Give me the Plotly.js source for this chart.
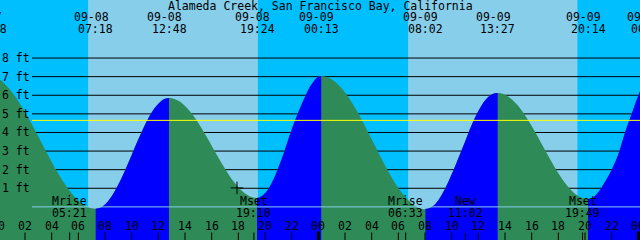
<!DOCTYPE html>
<html><head><meta charset="utf-8">
<script src="https://cdn.plot.ly/plotly-3.0.1.min.js"></script>
<style>html,body{margin:0;padding:0;background:#00BFFF;overflow:hidden}</style>
</head><body><div id="chart" style="width:640px;height:240px"></div>
<script>
const titleText = 'Alameda Creek, San Francisco Bay, California';

// tide height readings (hours after 09-08 00:00, feet)
const tideHours = [-0.5,0,0.5,1,1.5,2,2.5,3,3.5,4,4.5,5,5.5,6,6.5,7,7.5,8,8.5,9,9.5,10,10.5,11,11.5,12,12.5,13,13.5,14,14.5,15,15.5,16,16.5,17,17.5,18,18.5,19,19.5,20,20.5,21,21.5,22,22.5,23,23.5,24,24.5,25,25.5,26,26.5,27,27.5,28,28.5,29,29.5,30,30.5,31,31.5,32,32.5,33,33.5,34,34.5,35,35.5,36,36.5,37,37.5,38,38.5,39,39.5,40,40.5,41,41.5,42,42.5,43,43.5,44,44.5,45,45.5,46,46.5,47,47.5,48,48.5];
const tideFeet = [7.06,6.89,6.59,6.19,5.68,5.10,4.45,3.78,3.09,2.41,1.78,1.21,0.72,0.34,0.07,-0.08,-0.08,0.13,0.57,1.20,1.96,2.79,3.63,4.41,5.07,5.54,5.81,5.84,5.70,5.42,5.02,4.51,3.92,3.29,2.66,2.05,1.50,1.05,0.72,0.53,0.49,0.73,1.29,2.11,3.10,4.16,5.10,5.92,6.60,7.00,7.01,6.85,6.57,6.15,5.63,5.02,4.34,3.63,2.92,2.22,1.58,1.01,0.54,0.18,-0.04,-0.12,-0.01,0.36,0.97,1.75,2.62,3.50,4.40,5.15,5.72,6.04,6.12,6.03,5.79,5.42,4.93,4.35,3.72,3.06,2.41,1.81,1.29,0.87,0.58,0.44,0.46,0.80,1.35,2.00,2.83,4.00,5.00,6.00,6.80];

// tide events
const eventDates = ['09-07','09-08','09-08','09-08','09-09','09-09','09-09','09-09','09-10'];
const eventTimes = ['23:18','07:18','12:48','19:24','00:13','08:02','13:27','20:14','00:48'];
const eventKinds = ['high','low','high','low','high','low','high','low','high'];

// sun
const sunDates = ['09-08','09-09'];
const sunriseTimes = ['06:44','06:44'];
const sunsetTimes = ['19:28','19:26'];

// moon
const moonNames = ['Mrise','Mset','Mrise','New','Mset'];
const moonDates = ['09-08','09-08','09-09','09-09','09-09'];
const moonTimes = ['05:21','19:10','06:33','11:02','19:49'];

// axes labels
const hourTicks = [0,2,4,6,8,10,12,14,16,18,20,22,24,26,28,30,32,34,36,38,40,42,44,46,48];
const hourLabels = ['00','02','04','06','08','10','12','14','16','18','20','22','00','02','04','06','08','10','12','14','16','18','20','22','00'];
const feetTicks = [1,2,3,4,5,6,7,8];
const feetLabels = ['1 ft','2 ft','3 ft','4 ft','5 ft','6 ft','7 ft','8 ft'];
const meanLevelFeet = 4.65;
const nowHour = 17.9, nowFeet = 1.02;

function toHours(date, time) {
  const day = parseInt(date.slice(3), 10) - 8;
  const [h, m] = time.split(':').map(Number);
  return day * 24 + h + m / 60;
}
const eventHours = eventDates.map((d, i) => toHours(d, eventTimes[i]));
const moonHours = moonDates.map((d, i) => toHours(d, moonTimes[i]));
const sunrise = sunDates.map((d, i) => toHours(d, sunriseTimes[i]));
const sunset = sunDates.map((d, i) => toHours(d, sunsetTimes[i]));

const X0 = 0.125, X1 = 48.125, Y0 = -1.78, Y1 = 11.12;
const BOTTOM = Y0 - 2;
const EBB = '#2E8B57', FLOOD = '#0000FF';
const FONT = {family: 'DejaVu Sans Mono', size: 11.5, color: '#000000'};
const W = 640, H = 240;

function area(xa, color) {
  return [
    {x: [tideHours[0], tideHours[tideHours.length - 1]], y: [BOTTOM, BOTTOM], xaxis: xa, yaxis: 'y',
     mode: 'lines', line: {width: 0}, hoverinfo: 'skip', showlegend: false},
    {x: tideHours, y: tideFeet, xaxis: xa, yaxis: 'y', mode: 'lines',
     line: {width: 0, shape: 'spline', color: color}, fill: 'tonexty', fillcolor: color,
     hoverinfo: 'skip', showlegend: false}
  ];
}

const layout = {
  width: W, height: H, margin: {l: 0, r: 0, t: 0, b: 0},
  paper_bgcolor: '#00BFFF', plot_bgcolor: 'rgba(0,0,0,0)',
  showlegend: false,
  xaxis: {range: [X0, X1], domain: [0, 1], visible: false, fixedrange: true},
  yaxis: {range: [Y0, Y1], domain: [0, 1], visible: false, fixedrange: true},
  shapes: [], annotations: []
};

let traces = area('x', EBB);
traces.push({x: [nowHour], y: [nowFeet], xaxis: 'x', yaxis: 'y', mode: 'markers',
  marker: {symbol: 'cross-thin', size: 9, line: {color: '#000000', width: 1}},
  hoverinfo: 'skip', showlegend: false});

// rising (flood) segments, clipped into their own sub-axes
let n = 2;
for (let i = 0; i < eventHours.length - 1; i++) {
  if (eventKinds[i] !== 'low') continue;
  const ta = Math.max(eventHours[i], X0), tb = Math.min(eventHours[i + 1], X1);
  const name = 'xaxis' + n;
  layout[name] = {range: [ta, tb], domain: [(ta - X0) / (X1 - X0), (tb - X0) / (X1 - X0)],
    visible: false, anchor: 'y', fixedrange: true};
  traces = traces.concat(area('x' + n, FLOOD));
  n++;
}

// daylight bands
for (let i = 0; i < sunrise.length; i++) {
  layout.shapes.push({type: 'rect', layer: 'below', xref: 'x', yref: 'paper',
    x0: sunrise[i], x1: sunset[i], y0: 0, y1: 1, fillcolor: '#87CEEB', line: {width: 0}});
}
// feet grid
feetTicks.forEach(v => layout.shapes.push({type: 'line', layer: 'below', xref: 'paper', yref: 'y',
  x0: 32 / W, x1: 1, y0: v, y1: v, line: {color: '#000000', width: 1}}));
// mean level and datum lines
layout.shapes.push({type: 'line', layer: 'above', xref: 'paper', yref: 'y', x0: 32 / W, x1: 1,
  y0: meanLevelFeet, y1: meanLevelFeet, line: {color: '#FFFF00', width: 1}});
layout.shapes.push({type: 'line', layer: 'above', xref: 'paper', yref: 'y', x0: 32 / W, x1: 1,
  y0: 0, y1: 0, line: {color: '#87CEEB', width: 1}});
// hour ticks
hourTicks.forEach(t => layout.shapes.push({type: 'line', layer: 'above', xref: 'x', yref: 'paper',
  x0: t, x1: t, y0: 0, y1: (t % 24 === 0 ? 8.5 : 7.5) / H,
  line: {color: '#000000', width: t % 24 === 0 ? 3 : 1}}));
moonHours.forEach(t => layout.shapes.push({type: 'line', layer: 'above', xref: 'x', yref: 'paper',
  x0: t, x1: t, y0: 0, y1: 7.5 / H, line: {color: '#000000', width: 1}}));

function xPos(t) {
  return (t >= X0 && t <= X1) ? {xref: 'x', x: t} : {xref: 'paper', x: (t - X0) / (X1 - X0)};
}
function label(text, t, py, extra) {
  return Object.assign({text: text, showarrow: false, font: FONT, yref: 'paper', y: 1 - py / H,
    xanchor: 'center', yanchor: 'middle', borderpad: 0}, xPos(t), extra || {});
}

layout.annotations.push({text: titleText, showarrow: false, font: FONT, xref: 'paper', x: 0.5,
  yref: 'paper', y: 1 - 5.5 / H, xanchor: 'center', yanchor: 'middle', borderpad: 0});
eventHours.forEach((t, i) => {
  layout.annotations.push(label(eventDates[i], t, 17, {xshift: -4.5}));
  layout.annotations.push(label(eventTimes[i], t, 29));
});
feetTicks.forEach((v, i) => layout.annotations.push({text: feetLabels[i], showarrow: false, font: FONT,
  xref: 'paper', x: 1 / W, xanchor: 'left', yref: 'y', y: v, yanchor: 'middle', borderpad: 0}));
moonHours.forEach((t, i) => {
  layout.annotations.push(label(moonNames[i], t, 201));
  layout.annotations.push(label(moonTimes[i], t, 213));
});
hourTicks.forEach((t, i) => layout.annotations.push(label(hourLabels[i], t, 226)));

Plotly.newPlot('chart', traces, layout, {staticPlot: true, displayModeBar: false});
</script>
</body></html>
